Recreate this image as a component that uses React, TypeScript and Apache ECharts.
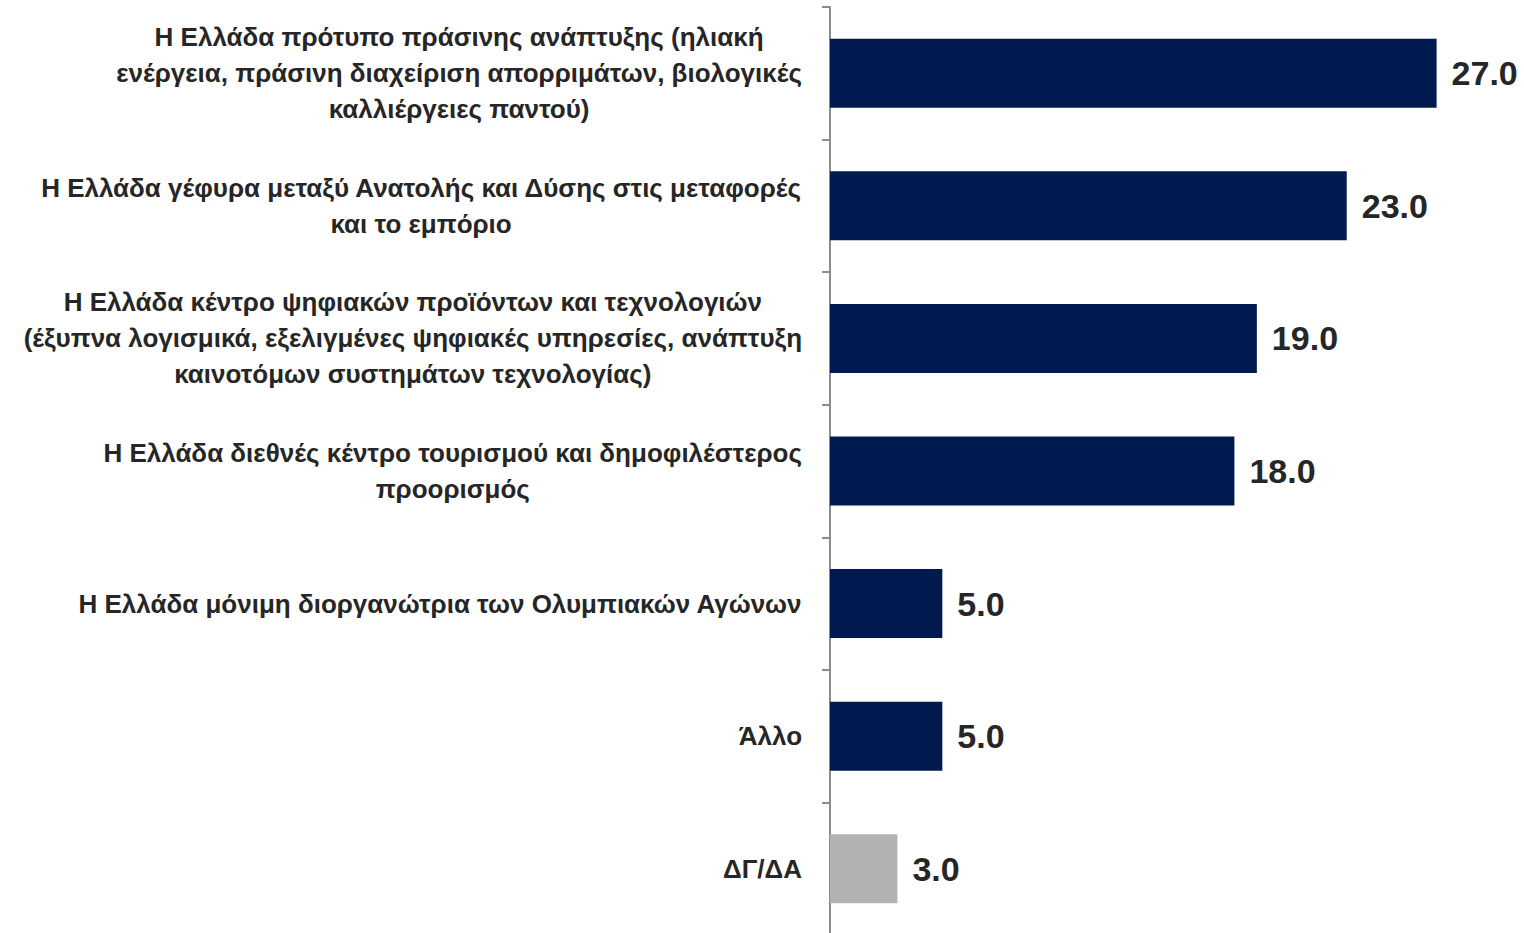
import React, { useEffect, useRef } from "react";
import * as echarts from "echarts";

const categories: string[] = [
  "Η Ελλάδα πρότυπο πράσινης ανάπτυξης (ηλιακή\nενέργεια, πράσινη διαχείριση απορριμάτων, βιολογικές\nκαλλιέργειες παντού)",
  "Η Ελλάδα γέφυρα μεταξύ Ανατολής και Δύσης στις μεταφορές\nκαι το εμπόριο",
  "Η Ελλάδα κέντρο ψηφιακών προϊόντων και τεχνολογιών\n(έξυπνα λογισμικά, εξελιγμένες ψηφιακές υπηρεσίες, ανάπτυξη\nκαινοτόμων συστημάτων τεχνολογίας)",
  "Η Ελλάδα διεθνές κέντρο τουρισμού και δημοφιλέστερος\nπροορισμός",
  "Η Ελλάδα μόνιμη διοργανώτρια των Ολυμπιακών Αγώνων",
  "Άλλο",
  "ΔΓ/ΔΑ",
];
const values: number[] = [27.0, 23.0, 19.0, 18.0, 5.0, 5.0, 3.0];
const highlightGray: boolean[] = [false, false, false, false, false, false, true];

const FONT = "'Liberation Sans', Arial, sans-serif";

export default function App() {
  const ref = useRef<HTMLDivElement>(null);
  useEffect(() => {
    if (!ref.current) return;
    const chart = echarts.init(ref.current, undefined, { renderer: "svg" });
    chart.setOption({
      animation: false,
      grid: {
        left: 830,
        right: 20,
        top: 7,
        bottom: -2,
        containLabel: false,
        outerBoundsMode: "none",
      },
      xAxis: {
        type: "value",
        min: 0,
        max: 30,
        show: false,
      },
      yAxis: {
        type: "category",
        inverse: true,
        data: categories,
        axisLine: { show: true, lineStyle: { color: "#8c8c8c", width: 2 } },
        axisTick: { show: true, length: 8, lineStyle: { color: "#8c8c8c", width: 2 } },
        axisLabel: {
          margin: 28,
          fontFamily: FONT,
          fontWeight: "bold",
          fontSize: 26,
          color: "#262626",
          lineHeight: 36,
          formatter: (v: string) =>
            v
              .split("\n")
              .map((l) => "{c|" + l + "}")
              .join("\n"),
          rich: {
            c: {
              align: "center",
              fontFamily: FONT,
              fontWeight: "bold",
              fontSize: 26,
              color: "#262626",
              lineHeight: 36,
            },
          },
        },
        splitLine: { show: false },
      },
      series: [
        {
          type: "bar",
          barWidth: 69,
          data: values.map((v, i) => ({
            value: v,
            itemStyle: { color: highlightGray[i] ? "#b2b2b2" : "#001a4f" },
          })),
          label: {
            show: true,
            position: "right",
            distance: 15,
            formatter: (p: any) => Number(p.value).toFixed(1),
            fontFamily: FONT,
            fontWeight: "bold",
            fontSize: 34,
            color: "#262626",
          },
        },
      ],
    });
    return () => chart.dispose();
  }, []);
  return (
    <div
      ref={ref}
      style={{ position: "absolute", left: 0, top: 0, width: 1524, height: 933, background: "#fff" }}
    />
  );
}
